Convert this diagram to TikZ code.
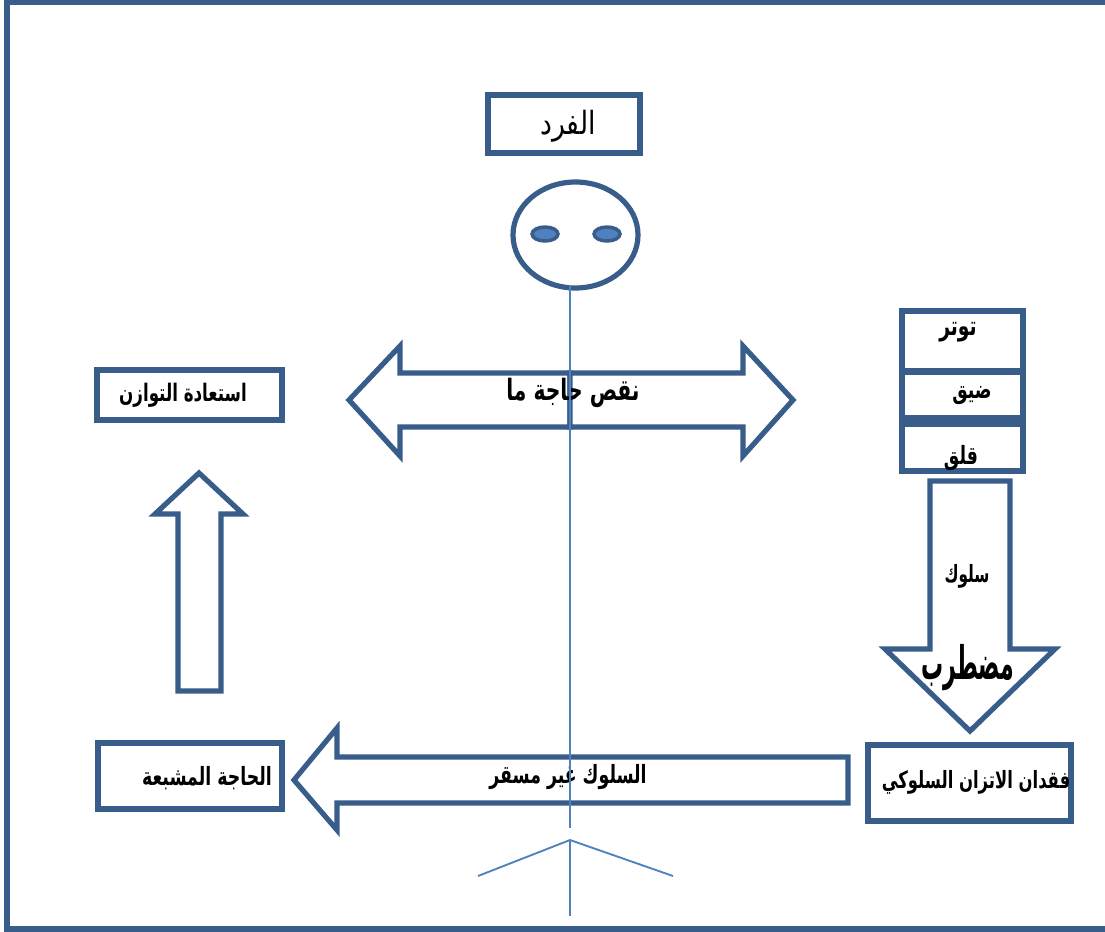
\documentclass[tikz,border=0pt]{standalone}
\usepackage{fontspec}
\usepackage{graphicx}
\TeXXeTstate=1
\newfontfamily\arabicfont[Script=Arabic]{DejaVu Sans}
\definecolor{dkblue}{HTML}{385D8A}
\definecolor{ltblue}{HTML}{4F81BD}
\newcommand{\arlbl}[3]{\scalebox{1}[#2]{\arabicfont\bfseries\fontsize{#1}{#1}\selectfont #3}}
\tikzset{
  shapeline/.style={draw=dkblue, line width=3.9pt, fill=white, line join=miter},
  thinline/.style={draw=ltblue, line width=1.4pt},
  lbl/.style={inner sep=0pt, text=black},
}
\begin{document}
\begin{tikzpicture}[x=0.75pt, y=-0.75pt]
\useasboundingbox (0,0) rectangle (1105,931);
% outer frame
\draw[draw=dkblue, line width=3.9pt] (1110,2) -- (7,2) -- (7,929) -- (1110,929);

% individual box
\draw[shapeline] (488,95) rectangle (640,153);
\node[lbl] (fard) at (568,126) {\scalebox{1}[1.2]{\arabicfont\fontsize{20}{20}\selectfont\beginR الفرد\endR}};

% head
\draw[shapeline] (575.5,235) ellipse [x radius=62.5, y radius=53];
\draw[draw=dkblue, line width=2.6pt, fill=ltblue] (545,234) ellipse [x radius=13, y radius=7];
\draw[draw=dkblue, line width=2.6pt, fill=ltblue] (607,234) ellipse [x radius=13, y radius=7];

% double arrow
\draw[shapeline] (570,373) -- (400,373) -- (400,346) -- (349,400) -- (400,456) -- (400,427) -- (570,427) -- cycle;
\draw[shapeline] (570,373) -- (743,373) -- (743,346) -- (793,400) -- (743,456) -- (743,427) -- (570,427) -- cycle;
\node[lbl] (naqs) at (573,393) {\arlbl{15.2}{1.45}{\beginR نقص حاجة ما\endR}};

% right stack
\draw[shapeline] (902,311) rectangle (1023,371);
\draw[shapeline] (902,372) rectangle (1023,418);
\draw[shapeline] (902,424) rectangle (1023,471);
\node[lbl] (tawattur) at (958,332) {\arlbl{14}{1.45}{\beginR توتر\endR}};
\node[lbl] (dayq) at (972,396) {\arlbl{13}{1.45}{\beginR ضيق\endR}};
\node[lbl] (qalaq) at (961,458) {\arlbl{13}{1.45}{\beginR قلق\endR}};

% down arrow
\draw[shapeline] (930,481) -- (1010,481) -- (1010,649) -- (1055,649) -- (970,731) -- (885,649) -- (930,649) -- cycle;
\node[lbl] (suluk) at (967,576) {\arlbl{11.5}{1.55}{\beginR سلوك\endR}};
\node[lbl] (mudtarib) at (968,668) {\arlbl{16.5}{2.1}{\beginR مضطرب\endR}};

% loss of balance box
\draw[shapeline] (868,745) rectangle (1071,821);
\node[lbl] (fuqdan) at (976,782) {\arlbl{12.3}{1.45}{\beginR فقدان الاتزان السلوكي\endR}};

% bottom left arrow
\draw[shapeline] (848,757) -- (337,757) -- (337,728) -- (294,780) -- (337,830) -- (337,803) -- (848,803) -- cycle;
\node[lbl] (ghayr) at (568,777) {\arlbl{13}{1.45}{\beginR السلوك غير مسقر\endR}};

% satisfied need box
\draw[shapeline] (98,743) rectangle (282,809);
\node[lbl] (mushbaa) at (207,778) {\arlbl{13}{1.45}{\beginR الحاجة المشبعة\endR}};

% up arrow
\draw[shapeline] (178,691) -- (178,514) -- (155,514) -- (199,473) -- (243,514) -- (221,514) -- (221,691) -- cycle;

% restoring balance box
\draw[shapeline] (97,370) rectangle (282,420);
\node[lbl] (istiada) at (183,395) {\arlbl{12.5}{1.45}{\beginR استعادة التوازن\endR}};

% stick figure
\coordinate (neck) at (570,285);
\coordinate (waist) at (570,828);
\coordinate (hip) at (570,840);
\coordinate (lleg) at (478,876);
\coordinate (rleg) at (673,876);
\coordinate (foot) at (570,916);
\draw[thinline] (neck) -- (waist);
\draw[thinline] (lleg) -- (hip) -- (rleg);
\draw[thinline] (hip) -- (foot);
\end{tikzpicture}
\end{document}
